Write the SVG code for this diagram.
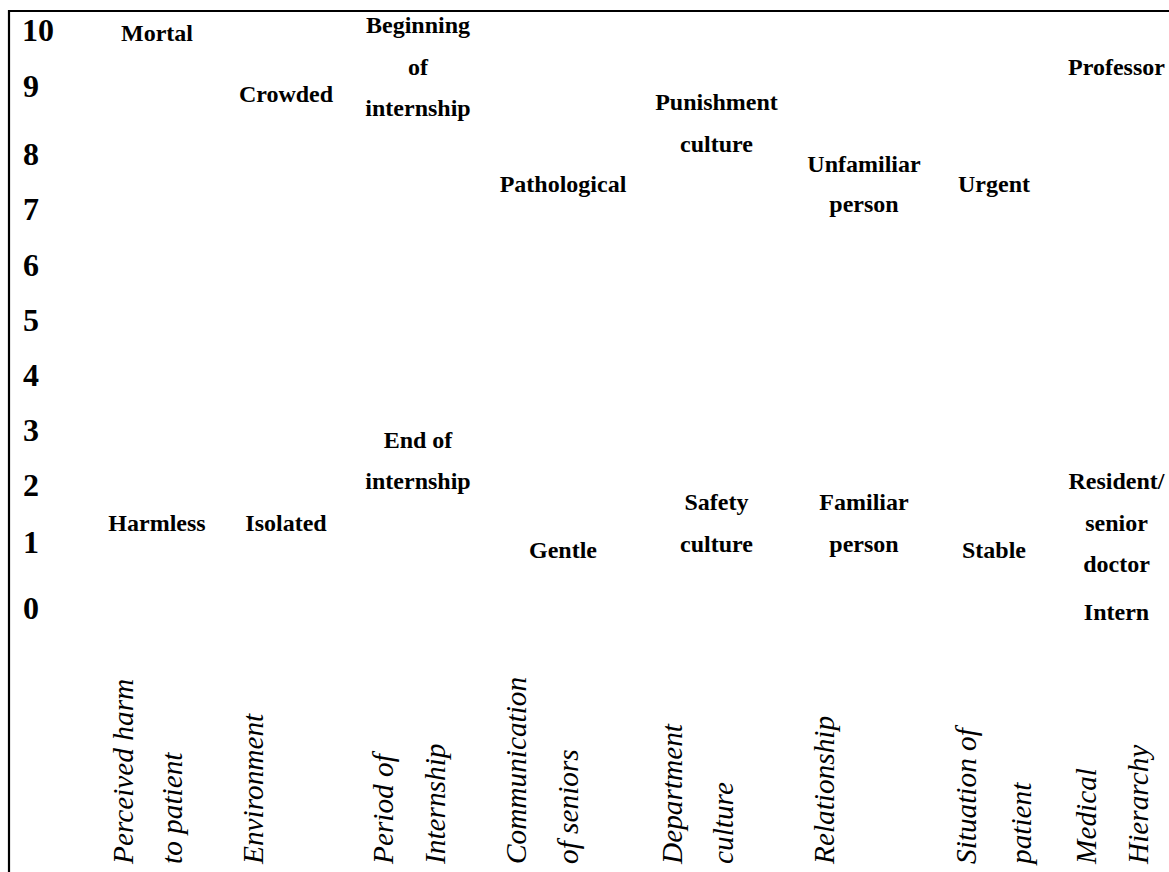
<svg xmlns="http://www.w3.org/2000/svg" width="1169" height="872" viewBox="0 0 1169 872">
<style>
.frame{stroke:#000;stroke-width:2.2;fill:none}
.num{font-family:"Liberation Serif","Times New Roman",serif;font-weight:bold;font-size:32px;fill:#000}
.lab{font-family:"Liberation Serif","Times New Roman",serif;font-weight:bold;font-size:24px;fill:#000;text-anchor:middle}
.ax{font-family:"Liberation Serif","Times New Roman",serif;font-style:italic;font-size:29.3px;fill:#000}
</style>
<rect width="1169" height="872" fill="#fff"/>
<g id="frame">
<line class="frame" x1="8" y1="11" x2="1169" y2="11"/>
<line class="frame" x1="9" y1="10" x2="9" y2="872"/>
</g>
<g id="scale">
<text class="num" x="22" y="41">10</text>
<text class="num" x="23" y="97">9</text>
<text class="num" x="23" y="165">8</text>
<text class="num" x="23" y="220">7</text>
<text class="num" x="23" y="276">6</text>
<text class="num" x="23" y="331">5</text>
<text class="num" x="23" y="386">4</text>
<text class="num" x="23" y="441">3</text>
<text class="num" x="23" y="496">2</text>
<text class="num" x="23" y="553">1</text>
<text class="num" x="23" y="619">0</text>
</g>
<g id="col-harm">
<text class="lab" x="157" y="41">Mortal</text>
<text class="lab" x="157" y="531">Harmless</text>
<text class="ax" transform="translate(133,864) rotate(-90)">Perceived harm</text>
<text class="ax" transform="translate(182,864) rotate(-90)">to patient</text>
</g>
<g id="col-environment">
<text class="lab" x="286" y="102">Crowded</text>
<text class="lab" x="286" y="531">Isolated</text>
<text class="ax" transform="translate(263,864) rotate(-90)">Environment</text>
</g>
<g id="col-period">
<text class="lab" x="418" y="33">Beginning</text>
<text class="lab" x="418" y="75">of</text>
<text class="lab" x="418" y="116">internship</text>
<text class="lab" x="418" y="448">End of</text>
<text class="lab" x="418" y="489">internship</text>
<text class="ax" transform="translate(393,864) rotate(-90)">Period of</text>
<text class="ax" transform="translate(445,864) rotate(-90)">Internship</text>
</g>
<g id="col-communication">
<text class="lab" x="563" y="192">Pathological</text>
<text class="lab" x="563" y="558">Gentle</text>
<text class="ax" transform="translate(526,864) rotate(-90)">Communication</text>
<text class="ax" transform="translate(578,864) rotate(-90)">of seniors</text>
</g>
<g id="col-department">
<text class="lab" x="716.5" y="110">Punishment</text>
<text class="lab" x="716.5" y="151.5">culture</text>
<text class="lab" x="716.5" y="510">Safety</text>
<text class="lab" x="716.5" y="551.5">culture</text>
<text class="ax" transform="translate(682,864) rotate(-90)">Department</text>
<text class="ax" transform="translate(733,864) rotate(-90)">culture</text>
</g>
<g id="col-relationship">
<text class="lab" x="864" y="171.5">Unfamiliar</text>
<text class="lab" x="864" y="212">person</text>
<text class="lab" x="864" y="510">Familiar</text>
<text class="lab" x="864" y="551.5">person</text>
<text class="ax" transform="translate(834,864) rotate(-90)">Relationship</text>
</g>
<g id="col-situation">
<text class="lab" x="994" y="192">Urgent</text>
<text class="lab" x="994" y="558">Stable</text>
<text class="ax" transform="translate(976,864) rotate(-90)">Situation of</text>
<text class="ax" transform="translate(1031,864) rotate(-90)">patient</text>
</g>
<g id="col-hierarchy">
<text class="lab" x="1116.5" y="75">Professor</text>
<text class="lab" x="1116.5" y="489">Resident/</text>
<text class="lab" x="1116.5" y="531">senior</text>
<text class="lab" x="1116.5" y="572">doctor</text>
<text class="lab" x="1116.5" y="620">Intern</text>
<text class="ax" transform="translate(1096,864) rotate(-90)">Medical</text>
<text class="ax" transform="translate(1148,864) rotate(-90)">Hierarchy</text>
</g>
</svg>
